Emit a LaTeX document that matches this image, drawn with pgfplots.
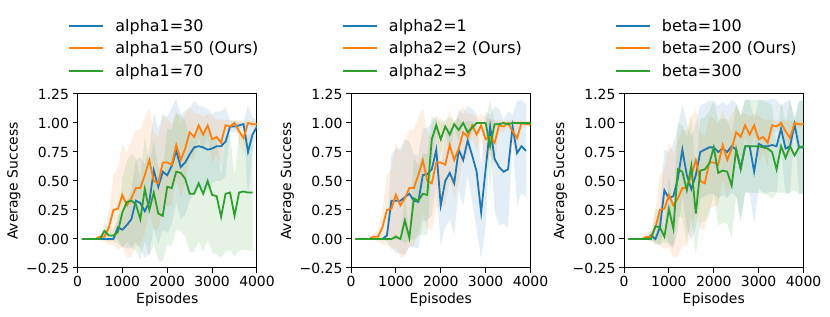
\documentclass[border=0pt]{standalone}
\usepackage{fontspec}
\setmainfont{DejaVu Sans}
\usepackage{pgfplots}
\usepackage{pgfplotstable}
\pgfplotsset{compat=1.18}
\usepgfplotslibrary{fillbetween}
\definecolor{tblue}{HTML}{1F77B4}
\definecolor{torange}{HTML}{FF7F0E}
\definecolor{tgreen}{HTML}{2CA02C}

% shared "Ours" curve (same in all three panels)
\pgfplotstableread{
x m s
100 0 0
200 0 0
300 0 0
400 0 0
500 0.02 0.03
600 0.02 0.04
700 0.10 0.15
800 0.25 0.30
900 0.26 0.35
1000 0.38 0.45
1100 0.29 0.45
1200 0.35 0.50
1300 0.44 0.50
1400 0.44 0.50
1500 0.55 0.50
1600 0.68 0.45
1700 0.50 0.42
1800 0.48 0.40
1900 0.66 0.40
2000 0.66 0.38
2100 0.64 0.35
2200 0.81 0.30
2300 0.68 0.32
2400 0.78 0.30
2500 0.92 0.22
2600 0.88 0.20
2700 0.98 0.10
2800 0.90 0.15
2900 0.98 0.10
3000 0.86 0.20
3100 0.88 0.15
3200 0.83 0.20
3300 0.98 0.05
3400 0.97 0.05
3500 1.00 0.02
3600 0.93 0.10
3700 0.87 0.15
3800 1.00 0.02
3900 0.99 0.03
4000 0.99 0.03
}\tOurs

\pgfplotstableread{
x m s
100 0 0
200 0 0
300 0 0
400 0 0
500 0 0
600 0 0
700 0 0
800 0 0
900 0.10 0.10
1000 0.08 0.15
1100 0.12 0.20
1200 0.17 0.25
1300 0.33 0.35
1400 0.31 0.40
1500 0.24 0.40
1600 0.32 0.45
1700 0.59 0.50
1800 0.45 0.50
1900 0.58 0.50
2000 0.55 0.50
2100 0.63 0.50
2200 0.76 0.45
2300 0.62 0.45
2400 0.66 0.45
2500 0.73 0.40
2600 0.79 0.40
2700 0.80 0.35
2800 0.79 0.35
2900 0.77 0.35
3000 0.78 0.30
3100 0.80 0.30
3200 0.80 0.30
3300 0.84 0.30
3400 0.97 0.05
3500 0.97 0.05
3600 0.98 0.03
3700 0.99 0.02
3800 0.75 0.40
3900 0.90 0.15
4000 0.97 0.05
}\tAa

\pgfplotstableread{
x m s
100 0 0
200 0 0
300 0 0
400 0 0
500 0 0
600 0.07 0.08
700 0.03 0.05
800 0.03 0.05
900 0.06 0.10
1000 0.23 0.30
1100 0.32 0.35
1200 0.33 0.40
1300 0.30 0.40
1400 0.17 0.35
1500 0.43 0.45
1600 0.25 0.40
1700 0.40 0.45
1800 0.22 0.40
1900 0.20 0.40
2000 0.45 0.50
2100 0.44 0.50
2200 0.58 0.50
2300 0.57 0.50
2400 0.52 0.50
2500 0.39 0.50
2600 0.39 0.50
2700 0.48 0.50
2800 0.39 0.50
2900 0.50 0.50
3000 0.38 0.50
3100 0.37 0.50
3200 0.19 0.35
3300 0.39 0.50
3400 0.40 0.50
3500 0.20 0.35
3600 0.40 0.50
3700 0.41 0.50
3800 0.40 0.50
3900 0.40 0.50
}\tAc

\pgfplotstableread{
x m s
100 0 0
200 0 0
300 0 0
400 0 0
500 0 0
600 0 0
700 0 0
800 0.03 0.05
900 0.33 0.40
1000 0.33 0.45
1100 0.33 0.45
1200 0.36 0.50
1300 0.39 0.45
1400 0.33 0.40
1500 0.32 0.40
1600 0.55 0.40
1700 0.56 0.40
1800 0.60 0.40
1900 0.77 0.30
2000 0.29 0.35
2100 0.50 0.40
2200 0.57 0.40
2300 0.48 0.45
2400 0.77 0.35
2500 0.68 0.40
2600 0.85 0.30
2700 0.72 0.40
2800 0.58 0.50
2900 0.23 0.40
3000 0.60 0.50
3100 0.97 0.10
3200 0.69 0.45
3300 0.62 0.50
3400 0.58 0.45
3500 0.60 0.50
3600 0.97 0.10
3700 0.74 0.45
3800 0.80 0.40
3900 0.76 0.40
}\tBa

\pgfplotstableread{
x m s
100 0 0
200 0 0
300 0 0
400 0 0
500 0 0
600 0 0
700 0 0
800 0 0
900 0 0
1000 0.02 0.03
1100 0.00 0.00
1200 0.16 0.20
1300 0.01 0.02
1400 0.35 0.35
1500 0.33 0.30
1600 0.39 0.35
1700 0.38 0.35
1800 0.86 0.20
1900 0.98 0.05
2000 0.86 0.15
2100 0.97 0.05
2200 0.90 0.15
2300 0.99 0.03
2400 0.94 0.10
2500 1.00 0.00
2600 0.92 0.10
2700 0.96 0.05
2800 1.00 0.00
2900 1.00 0.00
3000 1.00 0.00
3100 0.80 0.40
3200 0.99 0.02
3300 0.99 0.02
3400 1.00 0.00
3500 0.99 0.02
3600 1.00 0.00
3700 1.00 0.00
3800 1.00 0.00
3900 1.00 0.00
4000 1.00 0.00
}\tBc

\pgfplotstableread{
x m s
100 0 0
200 0 0
300 0 0
400 0 0
500 0 0
600 0.03 0.05
700 0.00 0.02
800 0.10 0.15
900 0.42 0.35
1000 0.35 0.40
1100 0.37 0.45
1200 0.52 0.45
1300 0.77 0.40
1400 0.55 0.45
1500 0.43 0.45
1600 0.55 0.45
1700 0.75 0.40
1800 0.77 0.40
1900 0.79 0.40
2000 0.79 0.40
2100 0.75 0.40
2200 0.78 0.40
2300 0.75 0.40
2400 0.80 0.40
2500 0.77 0.40
2600 0.61 0.45
2700 0.80 0.40
2800 0.80 0.40
2900 0.58 0.45
3000 0.82 0.38
3100 0.80 0.40
3200 0.80 0.40
3300 0.81 0.40
3400 0.80 0.40
3500 0.95 0.20
3600 0.78 0.40
3700 0.80 0.40
3800 0.99 0.05
3900 0.79 0.40
4000 0.79 0.40
}\tCa

\pgfplotstableread{
x m s
100 0 0
200 0 0
300 0 0
400 0 0
500 0 0
600 0 0
700 0.11 0.15
800 0.10 0.15
900 0.02 0.05
1000 0.26 0.30
1100 0.09 0.15
1200 0.60 0.40
1300 0.58 0.40
1400 0.42 0.45
1500 0.63 0.45
1600 0.22 0.35
1700 0.59 0.45
1800 0.60 0.45
1900 0.65 0.45
2000 0.79 0.40
2100 0.57 0.45
2200 0.59 0.45
2300 0.58 0.45
2400 0.46 0.45
2500 0.77 0.40
2600 0.60 0.45
2700 0.80 0.40
2800 0.80 0.40
2900 0.80 0.40
3000 0.80 0.40
3100 0.79 0.40
3200 0.78 0.40
3300 0.75 0.40
3400 0.60 0.20
3500 0.80 0.40
3600 0.70 0.30
3700 0.80 0.40
3800 0.72 0.30
3900 0.79 0.40
4000 0.80 0.40
}\tCc

\pgfplotsset{
  myax/.style={
    width=179.5bp, height=174bp, scale only axis,
    xmin=0, xmax=4000, ymin=-0.25, ymax=1.25,
    xtick={0,1000,2000,3000,4000},
    xticklabels={0,1000,2000,3000,4000},
    ytick={-0.25,0,0.25,0.5,0.75,1,1.25},
    yticklabels={−0.25,0.00,0.25,0.50,0.75,1.00,1.25},
    tick align=outside, tick pos=left,
    major tick length=5bp,
    every tick/.style={black, line width=1bp},
    axis line style={line width=1bp},
    font=\fontsize{14}{17}\selectfont,
    xlabel={Episodes}, ylabel={Average Success},
    xlabel style={at={(axis description cs:0.5,-0.184)}, anchor=center},
    ylabel style={at={(axis description cs:-0.354,0.5)}, anchor=center},
    legend cell align=left,
    legend image code/.code={\draw[#1, line width=2bp] (0bp,0bp) -- (34bp,0bp);},
    legend style={draw=none, fill=none, anchor=north west,
      at={(axis description cs:-0.068,1.455)},
      font=\fontsize{16}{19}\selectfont, row sep=5bp,
      /tikz/every odd column/.append style={column sep=9bp}},
  },
  band/.style={draw=none, fill=#1, fill opacity=0.12},
  ln/.style={#1, line width=1.8bp},
}

\newcommand{\bandplot}[3]{% table, color, name
  \addplot[draw=none, forget plot, name path=#3u] table[x=x, y expr=\thisrow{m}+\thisrow{s}] {#1};
  \addplot[draw=none, forget plot, name path=#3l] table[x=x, y expr=\thisrow{m}-\thisrow{s}] {#1};
  \addplot[band=#2, forget plot] fill between[of=#3u and #3l];
}

\begin{document}
\begin{tikzpicture}
\path (0,0) rectangle (830bp,317bp);

\begin{axis}[myax, at={(77.5bp,49bp)}, anchor=south west]
  \bandplot{\tAa}{tblue}{aa}
  \bandplot{\tOurs}{torange}{ab}
  \bandplot{\tAc}{tgreen}{ac}
  \addplot[ln=tblue] table[x=x,y=m] {\tAa};
  \addlegendentry{alpha1=30}
  \addplot[ln=torange] table[x=x,y=m] {\tOurs};
  \addlegendentry{alpha1=50 (Ours)}
  \addplot[ln=tgreen] table[x=x,y=m] {\tAc};
  \addlegendentry{alpha1=70}
\end{axis}

\begin{axis}[myax, at={(351bp,49bp)}, anchor=south west]
  \bandplot{\tBa}{tblue}{ba}
  \bandplot{\tOurs}{torange}{bb}
  \bandplot{\tBc}{tgreen}{bc}
  \addplot[ln=tblue] table[x=x,y=m] {\tBa};
  \addlegendentry{alpha2=1}
  \addplot[ln=torange] table[x=x,y=m] {\tOurs};
  \addlegendentry{alpha2=2 (Ours)}
  \addplot[ln=tgreen] table[x=x,y=m] {\tBc};
  \addlegendentry{alpha2=3}
\end{axis}

\begin{axis}[myax, at={(624bp,49bp)}, anchor=south west]
  \bandplot{\tCa}{tblue}{ca}
  \bandplot{\tOurs}{torange}{cb}
  \bandplot{\tCc}{tgreen}{cc}
  \addplot[ln=tblue] table[x=x,y=m] {\tCa};
  \addlegendentry{beta=100}
  \addplot[ln=torange] table[x=x,y=m] {\tOurs};
  \addlegendentry{beta=200 (Ours)}
  \addplot[ln=tgreen] table[x=x,y=m] {\tCc};
  \addlegendentry{beta=300}
\end{axis}
\end{tikzpicture}
\end{document}
